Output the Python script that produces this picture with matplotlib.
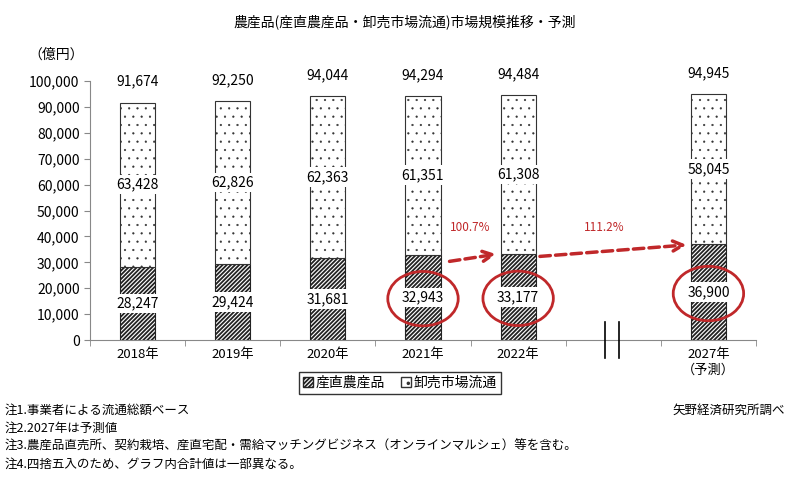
import matplotlib.pyplot as plt
from matplotlib.patches import Patch, Ellipse

plt.rcParams['font.family'] = ['Noto Sans CJK JP', 'DejaVu Sans']
plt.rcParams['hatch.linewidth'] = 1.3

# データ
years = ['2018年', '2019年', '2020年', '2021年', '2022年', '', '2027年\n（予測）']
chokusei = [28247, 29424, 31681, 32943, 33177, None, 36900]
oroshi = [63428, 62826, 62363, 61351, 61308, None, 58045]
totals = [91674, 92250, 94044, 94294, 94484, None, 94945]
circled = ['2021年', '2022年', '2027年\n（予測）']
growth = ['100.7%', '111.2%']

red = '#c0282a'
hatch_a = '////////'
hatch_b = '..'


def thin_dots(patches):
    for p in patches:
        if hasattr(p, 'set_hatch_linewidth'):
            p.set_hatch_linewidth(0.35)


fig = plt.figure(figsize=(8, 4.99), dpi=100)
ax = fig.add_axes([0.1125, 0.3186, 0.8325, 0.5191])

idx = [i for i, v in enumerate(chokusei) if v is not None]
w = 0.37
for i in idx:
    ax.bar(i, chokusei[i], width=w, color='white', edgecolor='#222222',
           hatch=hatch_a, linewidth=0.8, zorder=2)
    b = ax.bar(i, oroshi[i], width=w, bottom=chokusei[i], color='white',
               edgecolor='#333333', hatch=hatch_b, linewidth=0.8, zorder=2)
    thin_dots(b.patches)
    box = dict(facecolor='white', edgecolor='none', pad=2)
    ax.text(i, chokusei[i] / 2, f'{chokusei[i]:,}', ha='center', va='center',
            fontsize=10, bbox=box, zorder=4)
    ax.text(i, chokusei[i] + oroshi[i] / 2, f'{oroshi[i]:,}', ha='center',
            va='center', fontsize=10, bbox=box, zorder=4)
    ax.annotate(f'{totals[i]:,}', (i, totals[i]), xytext=(0, 10),
                textcoords='offset points', ha='center', va='bottom',
                fontsize=10, zorder=4)
    if years[i] in circled:
        ax.add_patch(Ellipse((i, chokusei[i] / 2 - 500), 0.74, 21000,
                             fill=False, edgecolor=red, linewidth=2, zorder=5))

# 矢印
ax.annotate('', xy=(3.8, 33300), xytext=(3.25, 30200),
            arrowprops=dict(arrowstyle='->', color=red, lw=2.5,
                            linestyle=(0, (3, 1.5)), mutation_scale=18))
ax.annotate('', xy=(5.8, 36800), xytext=(4.2, 32200),
            arrowprops=dict(arrowstyle='->', color=red, lw=2.5,
                            linestyle=(0, (3, 1.5)), mutation_scale=18))
ax.text(3.5, 43500, growth[0], color=red, fontsize=8.5, ha='center', va='center')
ax.text(4.9, 43500, growth[1], color=red, fontsize=8.5, ha='center', va='center')

# 省略記号
for bx in [4.91, 5.06]:
    ax.plot([bx, bx], [-7000, 7000], color='black', linewidth=1.2,
            clip_on=False, zorder=6)

ax.set_xlim(-0.5, 6.5)
ax.set_ylim(0, 100000)
ax.set_yticks(range(0, 100001, 10000))
ax.set_yticklabels([f'{v:,}' for v in range(0, 100001, 10000)], fontsize=10)
ax.set_xticks(range(7))
ax.set_xticklabels(years, fontsize=9.5)
ax.tick_params(axis='x', length=0, pad=6)
ax.set_xticks([x - 0.5 for x in range(8)], minor=True)
ax.tick_params(axis='x', which='minor', length=4, color='#888888')
ax.tick_params(axis='y', length=4, color='#888888')
for s in ['top', 'right']:
    ax.spines[s].set_visible(False)
ax.spines['left'].set_color('#888888')
ax.spines['bottom'].set_color('#888888')

fig.text(0.506, 1 - 22 / 499, '農産品(産直農産品・卸売市場流通)市場規模推移・予測',
         ha='center', va='center', fontsize=10)
fig.text(0.035, 1 - 55 / 499, '（億円）', ha='left', va='center', fontsize=10)

handles = [Patch(facecolor='white', edgecolor='#222222', hatch=hatch_a, label='産直農産品'),
           Patch(facecolor='white', edgecolor='#333333', hatch=hatch_b, label='卸売市場流通')]
thin_dots(handles[1:])
leg = fig.legend(handles=handles, loc='center', bbox_to_anchor=(0.5, 1 - 383 / 499),
                 ncol=2, fontsize=10, frameon=True, fancybox=False, edgecolor='black',
                 handlelength=0.7, handleheight=0.7, handletextpad=0.2,
                 columnspacing=1.2, borderpad=0.3)
leg.get_frame().set_linewidth(1.0)

notes = ['注1.事業者による流通総額ベース',
         '注2.2027年は予測値',
         '注3.農産品直売所、契約栽培、産直宅配・需給マッチングビジネス（オンラインマルシェ）等を含む。',
         '注4.四捨五入のため、グラフ内合計値は一部異なる。']
for k, n in enumerate(notes):
    fig.text(0.006, 1 - (410 + 18 * k) / 499, n, ha='left', va='center', fontsize=9)
fig.text(0.981, 1 - 410 / 499, '矢野経済研究所調べ', ha='right', va='center', fontsize=9)

fig.savefig('out.png', dpi=100)
